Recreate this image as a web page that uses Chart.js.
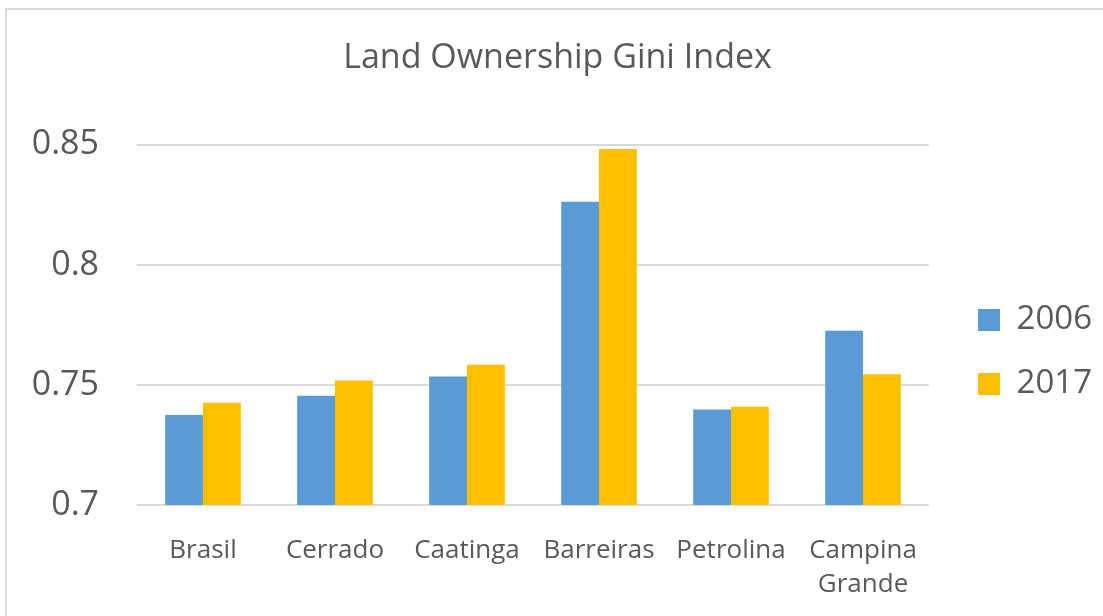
<!DOCTYPE html>
<html>
<head>
<meta charset="utf-8">
<title>Land Ownership Gini Index</title>
<script src="https://cdn.jsdelivr.net/npm/chart.js@4"></script>
<style>
    html, body { margin: 0; padding: 0; background: #fff; overflow: hidden; }
    #frame { position: absolute; left: 5px; top: 8px; width: 1200px; height: 700px; border: 2px solid #d9d9d9; }
    #wrap { position: absolute; left: 0; top: 0; width: 1103px; height: 616px; }
</style>
</head>
<body>
<div id="frame"></div>
<div id="wrap"><canvas id="giniChart"></canvas></div>
<script>
// --- datos ---
const regions = ['Brasil', 'Cerrado', 'Caatinga', 'Barreiras', 'Petrolina', ['Campina', 'Grande']];
const gini2006 = [0.7375, 0.7455, 0.7535, 0.8263, 0.7398, 0.7726];
const gini2017 = [0.7426, 0.7518, 0.7584, 0.8482, 0.7409, 0.7545];
const yTicks = [0.7, 0.75, 0.8, 0.85];

const textColor = '#595959';
const gridColor = '#d9d9d9';

// mueve la leyenda a su sitio (el layout de Chart.js la pega al area del grafico)
const legendNudge = {
    id: 'legendNudge',
    afterLayout(chart) {
        const lg = chart.legend;
        const dx = 18, dy = 44;
        lg.left += dx; lg.right += dx;
        lg.top += dy; lg.bottom += dy;
    }
};

const ctx = document.getElementById('giniChart').getContext('2d');
const giniChart = new Chart(ctx, {
    type: 'bar',
    data: {
        labels: regions,
        datasets: [
            { label: '2006', data: gini2006, backgroundColor: '#5b9bd5' },
            { label: '2017', data: gini2017, backgroundColor: '#ffc000' }
        ]
    },
    options: {
        responsive: true,
        maintainAspectRatio: false,
        animation: false,
        layout: { padding: { left: 31, right: 19, top: 0, bottom: 0 } },
        datasets: { bar: { categoryPercentage: 0.573, barPercentage: 1.0 } },
        scales: {
            x: {
                afterFit(scale) { scale.height = 111; },
                grid: { display: false },
                border: { display: false },
                ticks: {
                    color: textColor,
                    font: { family: 'Open Sans', size: 26, lineHeight: 1.3 },
                    padding: 21,
                    maxRotation: 0,
                    autoSkip: false
                }
            },
            y: {
                min: 0.7,
                max: 0.85,
                afterFit(scale) { scale.width = 106; },
                afterBuildTicks(scale) {
                    scale.ticks = yTicks.map(v => ({ value: v }));
                },
                grid: { color: gridColor, lineWidth: 2, drawTicks: false },
                border: { display: false },
                ticks: {
                    color: textColor,
                    font: { family: 'Open Sans', size: 34, lineHeight: 1.2 },
                    padding: 38,
                    callback: v => String(+v.toFixed(2))
                }
            }
        },
        plugins: {
            title: {
                display: true,
                text: 'Land Ownership Gini Index',
                color: textColor,
                font: { family: 'Open Sans', size: 34, weight: 'normal', lineHeight: 1.2 },
                padding: { top: 38, bottom: 66 }
            },
            legend: {
                position: 'right',
                labels: {
                    color: textColor,
                    font: { family: 'Open Sans', size: 33 },
                    boxWidth: 22,
                    boxHeight: 22,
                    padding: 31
                }
            },
            tooltip: { enabled: false }
        }
    },
    plugins: [legendNudge]
});
</script>
</body>
</html>
